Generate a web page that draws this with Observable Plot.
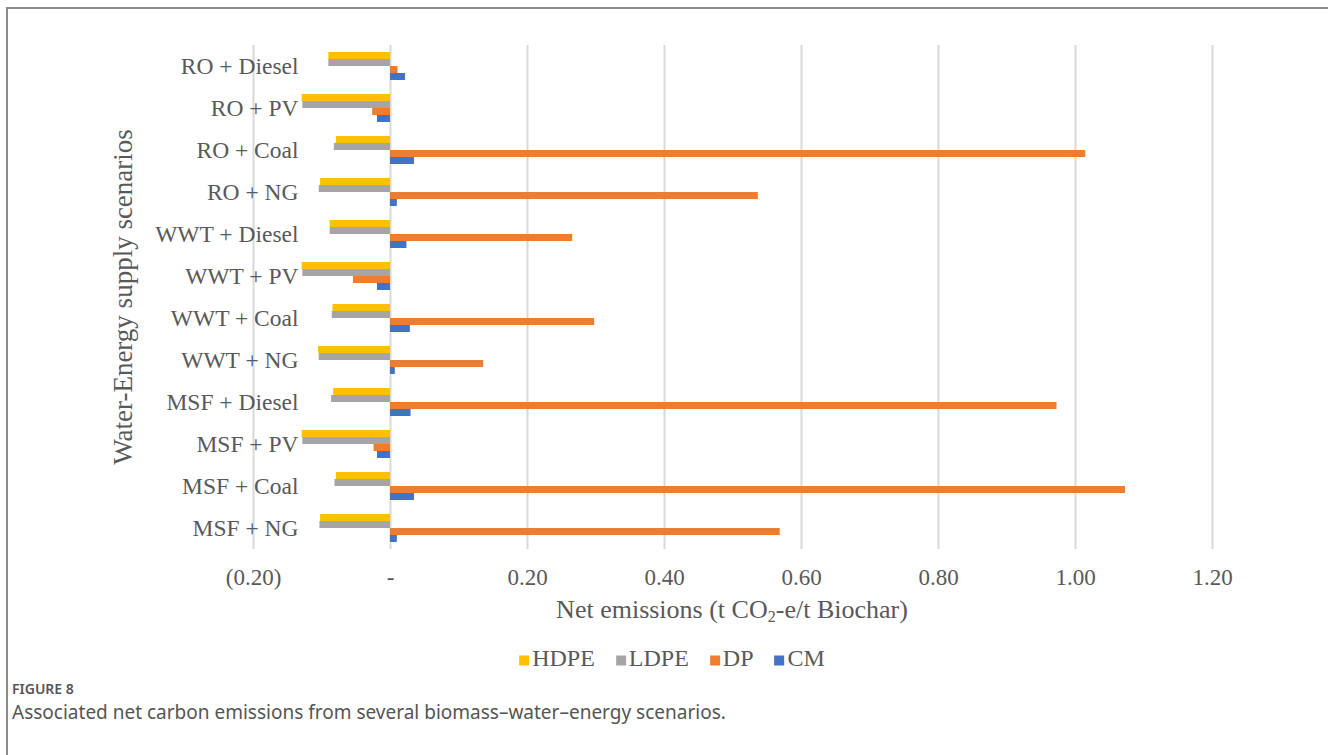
<!DOCTYPE html>
<html>
<head>
<meta charset="utf-8">
<script src="https://cdn.jsdelivr.net/npm/d3@7"></script>
<script src="https://cdn.jsdelivr.net/npm/@observablehq/plot@0.6"></script>
<style>
  html, body { margin: 0; padding: 0; background: #fff; overflow: hidden; width: 1328px; height: 755px; }
  .abs { position: absolute; white-space: nowrap; }
  .serif { font-family: 'Liberation Serif', 'Times New Roman', serif; color: #595959; }
  #frame { position: absolute; left: 6px; top: 7px; width: 1400px; height: 900px; border: 2px solid #8c8c8c; box-sizing: border-box; }
  #chart { position: absolute; left: 0; top: 0; }
  #ytitle { left: 123px; top: 297px; transform: translate(-50%, -50%) rotate(-90deg); font-size: 27px; }
  #xtitle { left: 732px; top: 610px; transform: translate(-50%, -50%); font-size: 26px; }
  #xtitle sub { font-size: 0.62em; vertical-align: -0.25em; line-height: 0; }
  #legend { left: 672px; top: 658px; transform: translate(-50%, -50%); font-size: 24px; display: flex; align-items: baseline; gap: 21px; }
  #legend .item { display: flex; align-items: baseline; gap: 3px; }
  #legend .sw { width: 10px; height: 10px; display: inline-block; }
  #fig { left: 12px; top: 688px; transform: translateY(-50%); font-family: 'Noto Sans', sans-serif; font-size: 14px; font-weight: 600; color: #555; }
  #cap { left: 12px; top: 712px; transform: translateY(-50%); font-family: 'Noto Sans', sans-serif; font-size: 19px; color: #555; }
</style>
</head>
<body>
<div id="frame"></div>
<div id="chart"></div>
<div id="ytitle" class="abs serif">Water-Energy supply scenarios</div>
<div id="xtitle" class="abs serif">Net emissions (t CO<sub>2</sub>-e/t Biochar)</div>
<div id="legend" class="abs serif"></div>
<div id="fig" class="abs">FIGURE 8</div>
<div id="cap" class="abs">Associated net carbon emissions from several biomass–water–energy scenarios.</div>
<script>
const categories = ["RO + Diesel", "RO + PV", "RO + Coal", "RO + NG",
  "WWT + Diesel", "WWT + PV", "WWT + Coal", "WWT + NG",
  "MSF + Diesel", "MSF + PV", "MSF + Coal", "MSF + NG"];
const series = ["HDPE", "LDPE", "DP", "CM"];
const hdpe = [-0.090, -0.129, -0.079, -0.102, -0.088, -0.129, -0.084, -0.105, -0.083, -0.129, -0.079, -0.102];
const ldpe = [-0.090, -0.128, -0.082, -0.104, -0.088, -0.128, -0.085, -0.104, -0.086, -0.128, -0.081, -0.103];
const dp   = [0.011, -0.026, 1.015, 0.537, 0.266, -0.054, 0.298, 0.136, 0.973, -0.024, 1.073, 0.569];
const cm   = [0.022, -0.019, 0.035, 0.010, 0.024, -0.019, 0.029, 0.007, 0.030, -0.019, 0.035, 0.010];
const colors = ["#FFC000", "#A5A5A5", "#ED7D31", "#4472C4"];
const xTicks = [-0.2, 0, 0.2, 0.4, 0.6, 0.8, 1.0, 1.2];
const xTickLabels = ["(0.20)", "-", "0.20", "0.40", "0.60", "0.80", "1.00", "1.20"];

const valuesBySeries = [hdpe, ldpe, dp, cm];
const data = [];
categories.forEach((c, i) => {
  series.forEach((s, j) => data.push({category: c, series: s, value: valuesBySeries[j][i]}));
});

const chart = Plot.plot({
  width: 1328,
  height: 600,
  marginLeft: 253,
  marginRight: 116,
  marginTop: 39,
  marginBottom: 46,
  style: {fontFamily: "'Liberation Serif', 'Times New Roman', serif", fontSize: "23px", color: "#595959", background: "transparent"},
  x: {
    domain: [-0.2, 1.2],
    ticks: xTicks,
    tickFormat: d => xTickLabels[xTicks.findIndex(t => Math.abs(t - d) < 1e-9)],
    tickSize: 0,
    tickPadding: 19,
    label: null
  },
  fy: {domain: categories, padding: 0, axis: null, label: null},
  y: {domain: series, paddingInner: 0, paddingOuter: 0.89, axis: null},
  color: {domain: series, range: colors},
  marks: [
    Plot.gridX(xTicks, {stroke: "#d9d9d9", strokeWidth: 2, strokeOpacity: 1}),
    Plot.barX(data, {x: "value", y: "series", fy: "category", fill: "series"}),
    Plot.text(categories, {fy: d => d, frameAnchor: "left", dx: 45, textAnchor: "end", text: d => d, fill: "#595959", fontSize: 23.5})
  ]
});
document.getElementById("chart").appendChild(chart);

const legend = document.getElementById("legend");
series.forEach((s, j) => {
  const item = document.createElement("span");
  item.className = "item";
  const sw = document.createElement("span");
  sw.className = "sw";
  sw.style.background = colors[j];
  const t = document.createElement("span");
  t.textContent = s;
  item.appendChild(sw);
  item.appendChild(t);
  legend.appendChild(item);
});
</script>
</body>
</html>
